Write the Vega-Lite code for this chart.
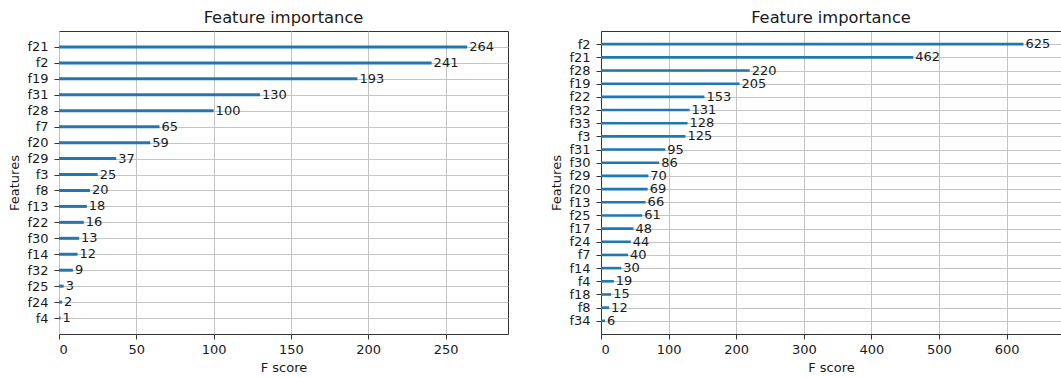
{
  "$schema": "https://vega.github.io/schema/vega-lite/v6.json",
  "autosize": {"type": "pad"},
  "padding": {"left": 7, "top": 9, "right": 1, "bottom": 0},
  "bounds": "flush",
  "spacing": 93,
  "background": "white",
  "config": {
    "font": "DejaVu Sans",
    "title": {"fontSize": 16.3, "fontWeight": "normal", "color": "#1a1a1a", "baseline": "alphabetic", "offset": 5, "anchor": "middle"},
    "axis": {
      "labelFont": "DejaVu Sans", "titleFont": "DejaVu Sans",
      "labelFontSize": 13, "titleFontSize": 13, "titleFontWeight": "normal",
      "labelColor": "#1a1a1a", "titleColor": "#1a1a1a",
      "tickColor": "#333", "tickSize": 5, "tickWidth": 1,
      "gridColor": "#c4c4c4", "gridWidth": 1,
      "domainColor": "#333", "domainWidth": 1,
      "labelOverlap": false
    }
  },
  "datasets": {
    "left": [
      {"feature": "f21", "score": 264},
      {"feature": "f2", "score": 241},
      {"feature": "f19", "score": 193},
      {"feature": "f31", "score": 130},
      {"feature": "f28", "score": 100},
      {"feature": "f7", "score": 65},
      {"feature": "f20", "score": 59},
      {"feature": "f29", "score": 37},
      {"feature": "f3", "score": 25},
      {"feature": "f8", "score": 20},
      {"feature": "f13", "score": 18},
      {"feature": "f22", "score": 16},
      {"feature": "f30", "score": 13},
      {"feature": "f14", "score": 12},
      {"feature": "f32", "score": 9},
      {"feature": "f25", "score": 3},
      {"feature": "f24", "score": 2},
      {"feature": "f4", "score": 1}
    ],
    "right": [
      {"feature": "f2", "score": 625},
      {"feature": "f21", "score": 462},
      {"feature": "f28", "score": 220},
      {"feature": "f19", "score": 205},
      {"feature": "f22", "score": 153},
      {"feature": "f32", "score": 131},
      {"feature": "f33", "score": 128},
      {"feature": "f3", "score": 125},
      {"feature": "f31", "score": 95},
      {"feature": "f30", "score": 86},
      {"feature": "f29", "score": 70},
      {"feature": "f20", "score": 69},
      {"feature": "f13", "score": 66},
      {"feature": "f25", "score": 61},
      {"feature": "f17", "score": 48},
      {"feature": "f24", "score": 44},
      {"feature": "f7", "score": 40},
      {"feature": "f14", "score": 30},
      {"feature": "f4", "score": 19},
      {"feature": "f18", "score": 15},
      {"feature": "f8", "score": 12},
      {"feature": "f34", "score": 6}
    ]
  },
  "hconcat": [
    {
      "data": {"name": "left"},
      "width": 449,
      "height": 303,
      "title": {"text": "Feature importance"},
      "view": {"stroke": "#333", "strokeWidth": 1},
      "encoding": {
        "y": {
          "field": "feature", "type": "nominal",
          "sort": {"field": "score", "order": "descending"},
          "scale": {"type": "point", "padding": 1},
          "axis": {"title": "Features", "grid": true, "domain": false, "labelPadding": 6, "titleX": -45, "titleY": 151.5, "titleAngle": -90, "titleBaseline": "middle", "titleAlign": "center"}
        }
      },
      "layer": [
        {
          "mark": {"type": "rule", "color": "#1f77b4", "strokeWidth": 3, "strokeCap": "butt"},
          "encoding": {
            "x": {"field": "score", "type": "quantitative", "scale": {"domain": [0, 290.4], "nice": false, "zero": true},
              "axis": {"title": "F score", "values": [0, 50, 100, 150, 200, 250], "grid": true, "domain": false, "labelPadding": 4, "titlePadding": 5}},
            "x2": {"datum": 0}
          }
        },
        {
          "mark": {"type": "text", "align": "left", "baseline": "middle", "dx": 2, "fontSize": 13, "color": "#1a1a1a", "font": "DejaVu Sans"},
          "encoding": {
            "x": {"field": "score", "type": "quantitative"},
            "text": {"field": "score", "type": "quantitative"}
          }
        }
      ]
    },
    {
      "data": {"name": "right"},
      "width": 460,
      "height": 303,
      "title": {"text": "Feature importance"},
      "view": {"stroke": null},
      "encoding": {
        "y": {
          "field": "feature", "type": "nominal",
          "sort": {"field": "score", "order": "descending"},
          "scale": {"type": "point", "padding": 1},
          "axis": {"title": "Features", "grid": true, "domain": true, "labelPadding": 6, "titleX": -45, "titleY": 151.5, "titleAngle": -90, "titleBaseline": "middle", "titleAlign": "center"}
        }
      },
      "layer": [
        {
          "mark": {"type": "rule", "color": "#1f77b4", "strokeWidth": 2.6, "strokeCap": "butt"},
          "encoding": {
            "x": {"field": "score", "type": "quantitative", "scale": {"domain": [0, 680.5], "nice": false, "zero": true},
              "axis": {"title": "F score", "values": [0, 100, 200, 300, 400, 500, 600], "grid": true, "domain": true, "labelPadding": 4, "titlePadding": 5}},
            "x2": {"datum": 0}
          }
        },
        {
          "mark": {"type": "text", "align": "left", "baseline": "middle", "dx": 2, "fontSize": 13, "color": "#1a1a1a", "font": "DejaVu Sans"},
          "encoding": {
            "x": {"field": "score", "type": "quantitative",
              "axis": {"orient": "top", "title": null, "labels": false, "ticks": false, "grid": false, "domain": true}},
            "text": {"field": "score", "type": "quantitative"}
          }
        }
      ],
      "resolve": {"axis": {"x": "independent"}}
    }
  ]
}
